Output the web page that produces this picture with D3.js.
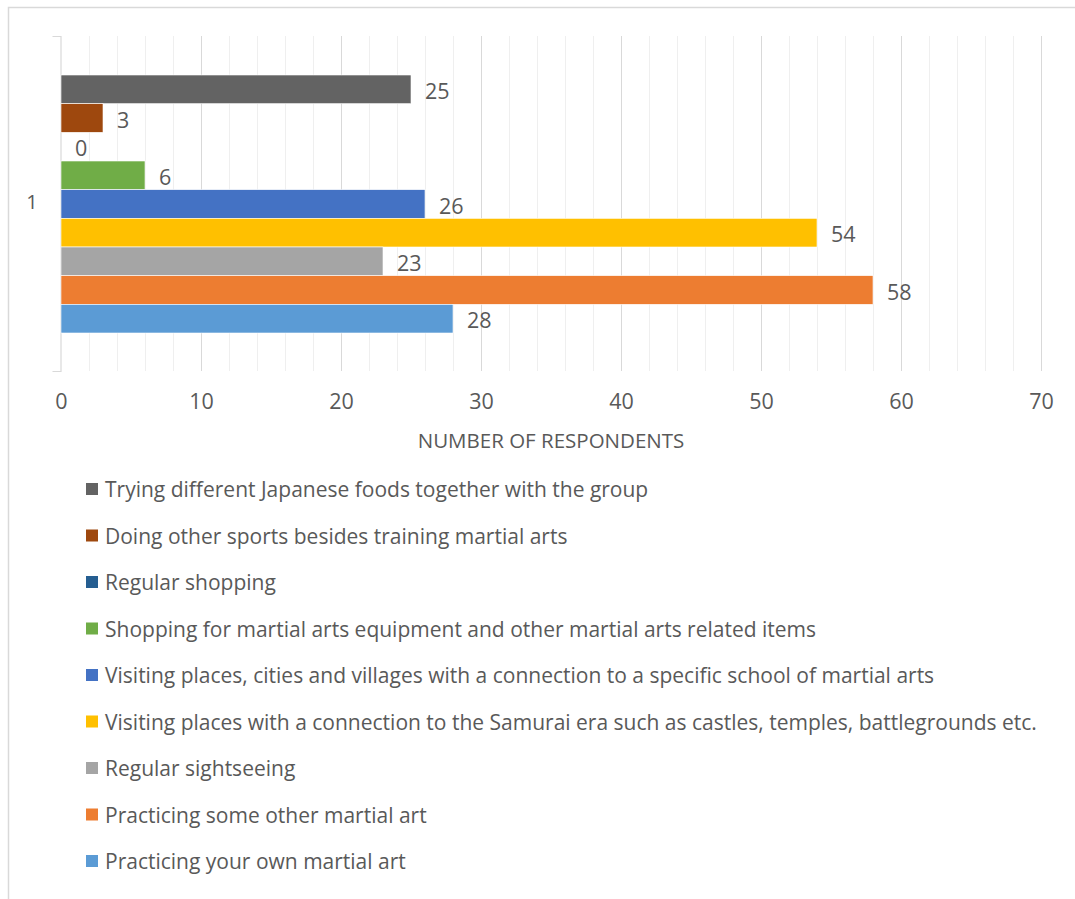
<!DOCTYPE html>
<html>
<head>
<meta charset="utf-8">
<script src="https://cdn.jsdelivr.net/npm/d3@7"></script>
<style>
  html, body { margin: 0; padding: 0; background: #fff; }
  svg { display: block; }
  text { font-family: "Open Sans", "Noto Sans", sans-serif; fill: #595959; }
</style>
</head>
<body>
<svg id="chart" width="1075" height="899"></svg>
<script>
// Activities, listed top to bottom as drawn
const activities = [
  "Trying different Japanese foods together with the group",
  "Doing other sports besides training martial arts",
  "Regular shopping",
  "Shopping for martial arts equipment and other martial arts related items",
  "Visiting places, cities and villages with a connection to a specific school of martial arts",
  "Visiting places with a connection to the Samurai era such as castles, temples, battlegrounds etc.",
  "Regular sightseeing",
  "Practicing some other martial art",
  "Practicing your own martial art"
];
const respondents = [25, 3, 0, 6, 26, 54, 23, 58, 28];
const colors = ["#636363", "#9E480E", "#255E91", "#70AD47", "#4472C4",
                "#FFC000", "#A5A5A5", "#ED7D31", "#5B9BD5"];
const categories = ["1"];
const xTicks = [0, 10, 20, 30, 40, 50, 60, 70];
const xTitle = "NUMBER OF RESPONDENTS";

const svg = d3.select("#chart");

// outer chart frame
svg.append("rect")
  .attr("x", 8.5).attr("y", 7.5)
  .attr("width", 1100).attr("height", 920)
  .attr("fill", "#fff")
  .attr("stroke", "#D9D9D9").attr("stroke-width", 1.5);

const plot = { left: 61, right: 1041, top: 36, bottom: 371 };

const x = d3.scaleLinear().domain([0, 70]).range([plot.left, plot.right]);

// category band spanning the plot height
const yCat = d3.scaleBand().domain(categories)
  .range([plot.top, plot.bottom]).padding(0);

// bars inside the single category
const yBar = d3.scaleBand().domain(d3.range(activities.length))
  .range([75, 333]).padding(0);

// minor gridlines every 2 units
const g = svg.append("g");
g.selectAll("line.minor")
  .data(d3.range(2, 71, 2).filter(v => v % 10 !== 0))
  .join("line")
  .attr("class", "minor")
  .attr("x1", d => Math.round(x(d)) + 0.5).attr("x2", d => Math.round(x(d)) + 0.5)
  .attr("y1", plot.top).attr("y2", plot.bottom)
  .attr("stroke", "#EFEFEF").attr("stroke-width", 1);

// major gridlines
g.selectAll("line.major")
  .data(xTicks.filter(v => v > 0))
  .join("line")
  .attr("class", "major")
  .attr("x1", d => Math.round(x(d)) + 0.5).attr("x2", d => Math.round(x(d)) + 0.5)
  .attr("y1", plot.top).attr("y2", plot.bottom)
  .attr("stroke", "#D9D9D9").attr("stroke-width", 1);

// vertical category axis with outer ticks
const yAxis = d3.axisLeft(yCat).tickValues([]).tickSizeOuter(8);
const yAxisG = svg.append("g")
  .attr("transform", `translate(${plot.left - 0.5},0)`)
  .call(yAxis);
yAxisG.select(".domain").attr("stroke", "#D9D9D9").attr("stroke-width", 1.2);

// category label
svg.append("text")
  .attr("x", 32).attr("y", yCat("1") + yCat.bandwidth() / 2 - 2)
  .attr("text-anchor", "middle").attr("dominant-baseline", "central")
  .attr("font-size", 20)
  .text(categories[0]);

// bars
svg.append("g").selectAll("rect")
  .data(respondents)
  .join("rect")
  .attr("x", x(0))
  .attr("y", (d, i) => yBar(i))
  .attr("width", d => x(d) - x(0))
  .attr("height", yBar.bandwidth())
  .attr("fill", (d, i) => colors[i])
  .attr("stroke", "#fff").attr("stroke-width", 0.6);

// value labels
svg.append("g").selectAll("text")
  .data(respondents)
  .join("text")
  .attr("x", d => x(d) + 14)
  .attr("y", (d, i) => yBar(i) + yBar.bandwidth() / 2 + 1)
  .attr("dominant-baseline", "central")
  .attr("font-size", 21.5)
  .text(d => d);

// x axis tick labels
const xAxis = d3.axisBottom(x).tickValues(xTicks).tickSize(0).tickPadding(0);
const xAxisG = svg.append("g")
  .attr("transform", `translate(0,${plot.bottom})`)
  .call(xAxis);
xAxisG.select(".domain").remove();
xAxisG.selectAll("text")
  .attr("y", 31)
  .attr("dy", "0.32em")
  .attr("font-size", 21.5)
  .attr("font-family", "\"Open Sans\", sans-serif")
  .attr("fill", "#595959");

// axis title
svg.append("text")
  .attr("x", (plot.left + plot.right) / 2).attr("y", 440)
  .attr("text-anchor", "middle").attr("dominant-baseline", "central")
  .attr("font-size", 20.5)
  .text(xTitle);

// legend
const legend = svg.append("g");
const rowY = d3.scalePoint().domain(d3.range(activities.length)).range([489, 861]);
const items = legend.selectAll("g")
  .data(activities)
  .join("g")
  .attr("transform", (d, i) => `translate(86,${rowY(i)})`);
items.append("rect")
  .attr("x", 0).attr("y", -6)
  .attr("width", 12).attr("height", 12)
  .attr("fill", (d, i) => colors[i]);
items.append("text")
  .attr("x", 19).attr("y", 0)
  .attr("dominant-baseline", "central")
  .attr("font-size", 21)
  .text(d => d);
</script>
</body>
</html>
